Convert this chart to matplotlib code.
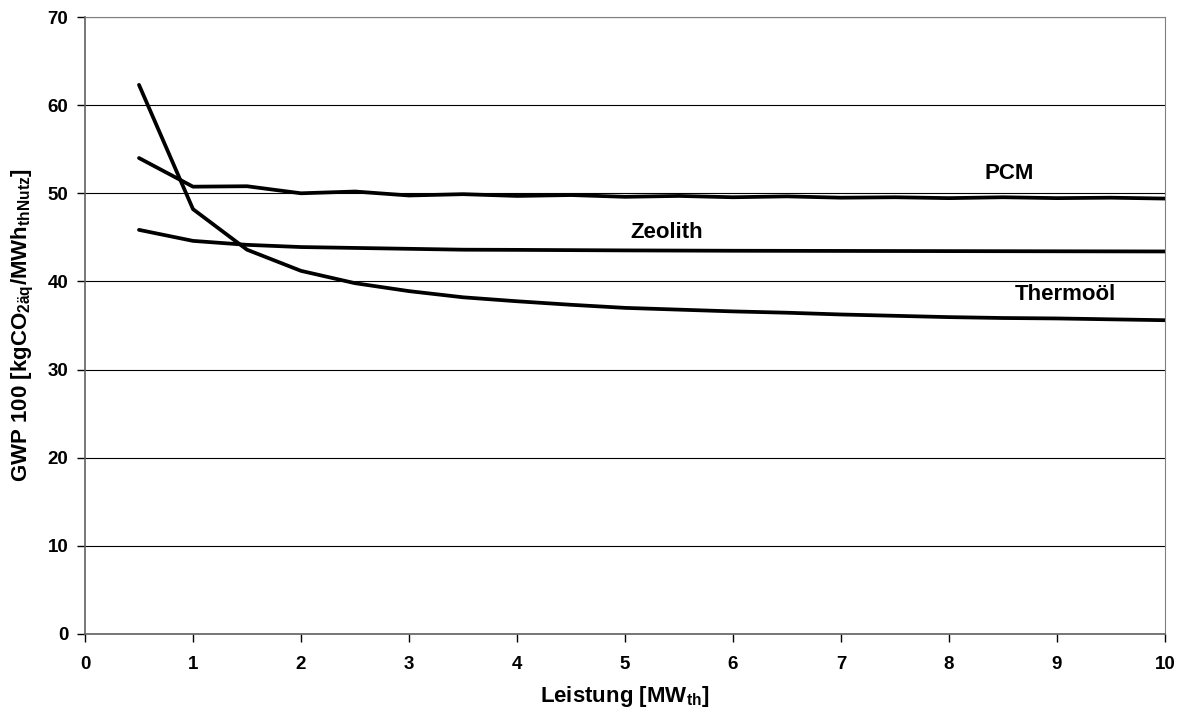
import matplotlib
matplotlib.use('Agg')
import matplotlib.pyplot as plt

# Leistung [MW_th]
leistung = [0.5, 1, 1.5, 2, 2.5, 3, 3.5, 4, 4.5, 5, 5.5, 6, 6.5, 7, 7.5, 8, 8.5, 9, 9.5, 10]

# GWP 100 per storage type
pcm = [54.0, 50.75, 50.8, 50.0, 50.2, 49.75, 49.9, 49.7, 49.8, 49.6, 49.7, 49.55,
       49.65, 49.5, 49.55, 49.45, 49.55, 49.45, 49.5, 49.4]
zeolith = [45.85, 44.6, 44.15, 43.9, 43.8, 43.7, 43.6, 43.58, 43.55, 43.52, 43.5, 43.48,
           43.47, 43.46, 43.45, 43.44, 43.43, 43.42, 43.41, 43.4]
thermooel = [62.3, 48.2, 43.6, 41.2, 39.8, 38.9, 38.2, 37.75, 37.35, 37.0, 36.8, 36.6,
             36.45, 36.25, 36.1, 35.95, 35.85, 35.8, 35.7, 35.6]

plt.rcParams.update({
    'font.family': 'Liberation Sans',
    'font.weight': 'bold',
    'mathtext.fontset': 'custom',
    'mathtext.rm': 'Liberation Sans:bold',
    'mathtext.bf': 'Liberation Sans:bold',
    'mathtext.it': 'Liberation Sans:bold',
    'mathtext.default': 'bf',
})

fig = plt.figure(figsize=(11.84, 7.17), dpi=100)
ax = fig.add_axes([85 / 1184, 83 / 717, 1080 / 1184, 617 / 717])

for vals in (pcm, zeolith, thermooel):
    ax.plot(leistung, vals, color='black', linewidth=2.7, solid_joinstyle='round',
            solid_capstyle='round', zorder=3)

ax.set_xlim(0, 10)
ax.set_ylim(0, 70)
ax.set_xticks(range(0, 11))
ax.set_yticks(range(0, 71, 10))
ax.yaxis.grid(True, color='black', linewidth=0.8)
ax.set_axisbelow(True)

for side in ('top', 'right'):
    ax.spines[side].set_color('#808080')
for side in ('left', 'bottom'):
    ax.spines[side].set_color('#606060')
    ax.spines[side].set_linewidth(1.2)
ax.tick_params(direction='out', length=6, width=1, color='black', labelsize=13.5)
ax.tick_params(axis='x', pad=10)
ax.tick_params(axis='y', pad=6)
for lbl in ax.get_xticklabels() + ax.get_yticklabels():
    lbl.set_fontweight('bold')

ax.set_xlabel('Leistung [MW$_{th}$]', fontsize=16, fontweight='bold', labelpad=8)
ax.set_ylabel('GWP 100 [kgCO$_{2äq}$/MWh$_{thNutz}$]', fontsize=16, fontweight='bold',
              labelpad=8)

ax.text(8.56, 52.2, 'PCM', fontsize=16, fontweight='bold', ha='center', va='center')
ax.text(5.39, 45.5, 'Zeolith', fontsize=16, fontweight='bold', ha='center', va='center')
ax.text(9.08, 38.5, 'Thermoöl', fontsize=16, fontweight='bold', ha='center', va='center')

fig.savefig('out.png', dpi=100)
